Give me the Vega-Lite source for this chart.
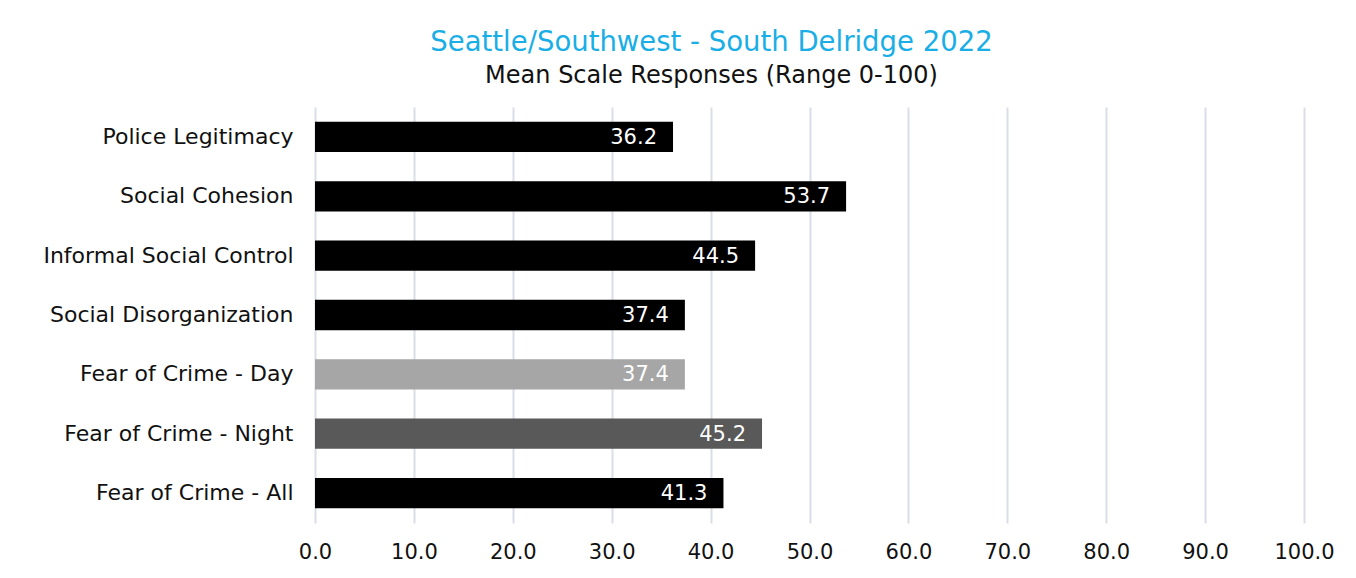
{
  "$schema": "https://vega.github.io/schema/vega-lite/v6.json",
  "autosize": {"type": "none"},
  "padding": {"left": 315, "top": 107, "right": 52, "bottom": 55},
  "width": 989,
  "height": 416,
  "background": "white",
  "config": {"view": {"stroke": null}},
  "title": {
    "text": "Seattle/Southwest - South Delridge 2022",
    "subtitle": "Mean Scale Responses (Range 0-100)",
    "anchor": "middle",
    "dx": -98,
    "offset": 19,
    "font": "DejaVu Sans",
    "fontSize": 27.5,
    "fontWeight": "normal",
    "color": "#1AAEE6",
    "subtitleFont": "DejaVu Sans",
    "subtitleFontSize": 24,
    "subtitleColor": "#111111",
    "subtitlePadding": 8
  },
  "data": {
    "values": [
      {"scale": "Police Legitimacy", "value": 36.2, "shade": "black"},
      {"scale": "Social Cohesion", "value": 53.7, "shade": "black"},
      {"scale": "Informal Social Control", "value": 44.5, "shade": "black"},
      {"scale": "Social Disorganization", "value": 37.4, "shade": "black"},
      {"scale": "Fear of Crime - Day", "value": 37.4, "shade": "light"},
      {"scale": "Fear of Crime - Night", "value": 45.2, "shade": "dark"},
      {"scale": "Fear of Crime - All", "value": 41.3, "shade": "black"}
    ]
  },
  "encoding": {
    "y": {
      "field": "scale",
      "type": "nominal",
      "sort": null,
      "title": null,
      "scale": {"paddingInner": 0.49, "paddingOuter": 0.25},
      "axis": {
        "domain": false,
        "ticks": false,
        "labelFont": "DejaVu Sans",
        "labelFontSize": 22,
        "labelColor": "#111111",
        "labelPadding": 22,
        "labelLimit": 400
      }
    },
    "x": {
      "field": "value",
      "type": "quantitative",
      "title": null,
      "scale": {"domain": [0, 100], "nice": false},
      "axis": {
        "values": [0, 10, 20, 30, 40, 50, 60, 70, 80, 90, 100],
        "format": ".1f",
        "domain": false,
        "ticks": false,
        "grid": true,
        "gridColor": "#D9DEE7",
        "gridWidth": 2,
        "labelFlush": false,
        "labelBound": false,
        "labelOverlap": false,
        "labelFont": "DejaVu Sans",
        "labelFontSize": 21,
        "labelColor": "#111111",
        "labelPadding": 18
      }
    }
  },
  "layer": [
    {
      "mark": {"type": "bar"},
      "encoding": {
        "color": {
          "field": "shade",
          "type": "nominal",
          "scale": {"domain": ["black", "light", "dark"], "range": ["#000000", "#A6A6A6", "#595959"]},
          "legend": null
        }
      }
    },
    {
      "mark": {"type": "text", "align": "right", "baseline": "middle", "dx": -16, "dy": 1, "font": "DejaVu Sans", "fontSize": 21, "color": "white"},
      "encoding": {
        "text": {"field": "value", "type": "quantitative", "format": ".1f"}
      }
    }
  ]
}
